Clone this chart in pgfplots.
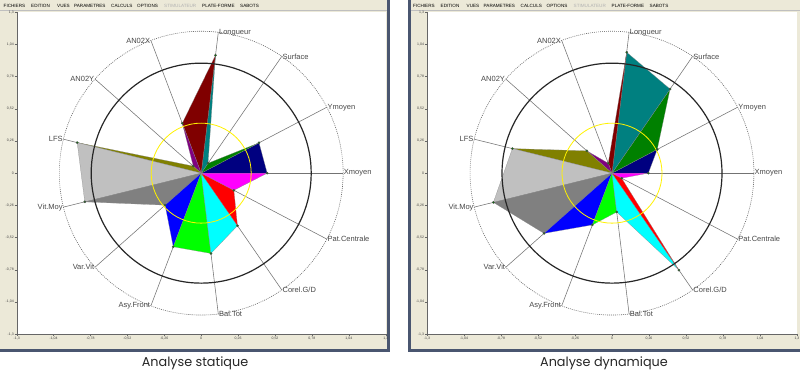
\documentclass[border=0pt]{standalone}
\usepackage{fontspec}
\setmainfont{Liberation Sans}
\newfontfamily\capfont{Poppins}
\usepackage{pgfplots}
\pgfplotsset{compat=1.18}
\definecolor{beige}{HTML}{ECE9D8}
\definecolor{frm}{HTML}{4A5670}
\definecolor{cnavy}{HTML}{000080}
\definecolor{cgreen}{HTML}{008000}
\definecolor{cteal}{HTML}{008080}
\definecolor{cmaroon}{HTML}{800000}
\definecolor{cpurple}{HTML}{800080}
\definecolor{colive}{HTML}{808000}
\definecolor{csilver}{HTML}{C0C0C0}
\definecolor{cgray}{HTML}{808080}
\definecolor{cblue}{HTML}{0000FF}
\definecolor{clime}{HTML}{00FF00}
\definecolor{ccyan}{HTML}{00FFFF}
\definecolor{cred}{HTML}{FF0000}
\definecolor{cmagenta}{HTML}{FF00FF}
\definecolor{lbl}{HTML}{484848}
\newcommand\wdg[5]{\addplot[fill=#1, draw=black!45, line width=0.2pt, data cs=polar, forget plot] coordinates {(0,0) (#2,#3) (#4,#5)} -- cycle;}
\tikzset{lab/.style={font=\fontsize{7.5}{8}\selectfont, text=lbl, inner sep=0.6pt}}
\pgfplotsset{
  base/.style={scale only axis, height=321.7pt, anchor=south west,
    xmin=-1.3, xmax=1.3, ymin=-1.3, ymax=1.3,
    axis lines=left, axis line style={-, black!60, line width=0.4pt},
    axis background/.style={fill=white},
    xtick={-1.3,-1.04,-0.78,-0.52,-0.26,0,0.26,0.52,0.78,1.04,1.3},
    ytick={-1.3,-1.04,-0.78,-0.52,-0.26,0,0.26,0.52,0.78,1.04,1.3},
    xticklabels={{-1,3},{-1,04},{-0,78},{-0,52},{-0,26},0,{0,26},{0,52},{0,78},{1,04},{1,3}},
    yticklabels={{-1,3},{-1,04},{-0,78},{-0,52},{-0,26},0,{0,26},{0,52},{0,78},{1,04},{1,3}},
    tick style={black!60, line width=0.3pt}, major tick length=2pt, tick align=outside,
    tick label style={font=\fontsize{3.5}{4}\selectfont, text=black!75, inner sep=0.8pt}},
  radar/.style={scale only axis, hide axis, clip=false, height=321.7pt, anchor=south west,
    ymin=-1.1334, ymax=1.1334}
}
\newcommand\spokesandrings{%
  \draw[black!60, dash pattern=on 0.9pt off 1.1pt, line width=0.6pt] (axis cs:0,0) circle[radius=141.9pt];
  \pgfplotsinvokeforeach{0,...,12}{\draw[black!55, line width=0.55pt] (axis cs:0,0) -- (axis cs:{cos(##1*360/13)},{sin(##1*360/13)});}
}
\newcommand\circlesandlabels{%
  \draw[yellow, line width=0.8pt] (axis cs:0,0) circle[radius=50pt];
  \draw[black!85, line width=1.2pt] (axis cs:0,0) circle[radius=110pt];
  \node[lab, anchor=west] at (axis cs:{cos(0)},{sin(0)}) {Xmoyen};
  \node[lab, anchor=west] at (axis cs:{cos(27.69)},{sin(27.69)}) {Ymoyen};
  \node[lab, anchor=west] at (axis cs:{cos(55.38)},{sin(55.38)}) {Surface};
  \node[lab, anchor=west] at (axis cs:{cos(83.08)},{sin(83.08)}) {Longueur};
  \node[lab, anchor=east] at (axis cs:{cos(110.77)},{sin(110.77)}) {AN02X};
  \node[lab, anchor=east] at (axis cs:{cos(138.46)},{sin(138.46)}) {AN02Y};
  \node[lab, anchor=east] at (axis cs:{cos(166.15)},{sin(166.15)}) {LFS};
  \node[lab, anchor=east] at (axis cs:{cos(193.85)},{sin(193.85)}) {Vit.Moy};
  \node[lab, anchor=east] at (axis cs:{cos(221.54)},{sin(221.54)}) {Var.Vit};
  \node[lab, anchor=east] at (axis cs:{cos(249.23)},{sin(249.23)}) {Asy.Front};
  \node[lab, anchor=west] at (axis cs:{cos(276.92)},{sin(276.92)}) {Bal.Tot};
  \node[lab, anchor=west] at (axis cs:{cos(304.62)},{sin(304.62)}) {Corel.G/D};
  \node[lab, anchor=west] at (axis cs:{cos(332.31)},{sin(332.31)}) {Pat.Centrale};
}
\newcommand\menubar[1]{%
  \begin{scope}[shift={(#1,0)}, every node/.style={anchor=west, font=\fontsize{4.6}{5}\selectfont, inner sep=0pt}]
    \node at (3.5,372) {FICHIERS};
    \node at (31,372) {EDITION};
    \node at (57,372) {VUES};
    \node at (74,372) {PARAMETRES};
    \node at (111,372) {CALCULS};
    \node at (137,372) {OPTIONS};
    \node[text=black!30] at (164,372) {STIMULATEUR};
    \node at (202,372) {PLATE-FORME};
    \node at (240,372) {SABOTS};
  \end{scope}
}
\begin{document}
\begin{tikzpicture}[x=1pt, y=1pt]
\fill[white] (0,0) rectangle (800,378);
\path[use as bounding box] (0,0) rectangle (800,378);
\coordinate (PL) at (16.7,44);
\coordinate (PR) at (427,44);
% frames
\fill[beige] (0,29) rectangle (387,378);
\fill[frm] (387,26) rectangle (389.5,378);
\fill[frm] (0,26) rectangle (389.5,29);
\fill[beige] (410.5,29) rectangle (800,378);
\fill[frm] (408,26) rectangle (410.5,378);
\fill[frm] (408,26) rectangle (800,29);
\draw[black!25, line width=0.4pt] (0,367.5) -- (387,367.5);
\draw[black!25, line width=0.4pt] (410.5,367.5) -- (800,367.5);
\menubar{0}
\menubar{409.5}
% ---------------- static ----------------
\begin{axis}[base, width=369pt, at={(PL)}]
\end{axis}
\begin{axis}[radar, width=369pt, at={(PL)}, xmin=-1.3, xmax=1.3]
\spokesandrings
\wdg{cnavy}{0}{0.465}{27.69}{0.46}
\wdg{cgreen}{27.69}{0.46}{55.38}{0.085}
\wdg{cteal}{55.38}{0.085}{83.08}{0.837}
\wdg{cmaroon}{83.08}{0.837}{110.77}{0.376}
\wdg{cpurple}{110.77}{0.376}{138.46}{0.075}
\wdg{colive}{138.46}{0.075}{166.15}{0.90}
\wdg{csilver}{166.15}{0.90}{193.85}{0.845}
\wdg{cgray}{193.85}{0.845}{221.54}{0.34}
\wdg{cblue}{221.54}{0.34}{249.23}{0.555}
\wdg{clime}{249.23}{0.555}{276.92}{0.57}
\wdg{ccyan}{276.92}{0.57}{304.62}{0.45}
\wdg{cred}{304.62}{0.45}{332.31}{0.26}
\wdg{cmagenta}{332.31}{0.26}{360}{0.465}
\addplot[only marks, mark=*, mark size=1.1pt, draw=black!70, fill=black!50!green, data cs=polar] coordinates {
(0,0.465) (27.69,0.46) (55.38,0.085) (83.08,0.837) (110.77,0.376) (138.46,0.075) (166.15,0.90)
(193.85,0.845) (221.54,0.34) (249.23,0.555) (276.92,0.57) (304.62,0.45) (332.31,0.26)};
\circlesandlabels
\end{axis}
% ---------------- dynamic ----------------
\begin{axis}[base, width=370pt, at={(PR)}]
\end{axis}
\begin{axis}[radar, width=370pt, at={(PR)}, xmin=-1.3037, xmax=1.3037]
\spokesandrings
\wdg{cnavy}{0}{0.256}{27.69}{0.36}
\wdg{cgreen}{27.69}{0.36}{55.38}{0.72}
\wdg{cteal}{55.38}{0.72}{83.08}{0.858}
\wdg{cmaroon}{83.08}{0.858}{110.77}{0.075}
\wdg{cpurple}{110.77}{0.075}{138.46}{0.237}
\wdg{colive}{138.46}{0.237}{166.15}{0.723}
\wdg{csilver}{166.15}{0.723}{193.85}{0.861}
\wdg{cgray}{193.85}{0.861}{221.54}{0.64}
\wdg{cblue}{221.54}{0.64}{249.23}{0.39}
\wdg{clime}{249.23}{0.39}{276.92}{0.276}
\wdg{ccyan}{276.92}{0.276}{304.62}{0.83}
\wdg{cred}{304.62}{0.83}{332.31}{0.077}
\wdg{cmagenta}{332.31}{0.077}{360}{0.256}
\addplot[only marks, mark=*, mark size=1.1pt, draw=black!70, fill=black!50!green, data cs=polar] coordinates {
(0,0.256) (27.69,0.36) (55.38,0.72) (83.08,0.858) (110.77,0.075) (138.46,0.237) (166.15,0.723)
(193.85,0.861) (221.54,0.64) (249.23,0.39) (276.92,0.276) (304.62,0.83) (332.31,0.077)};
\circlesandlabels
\end{axis}
% captions
\node[anchor=base, font=\capfont\fontsize{12.8}{14}\selectfont, text=black!85] at (195,11.3) {Analyse statique};
\node[anchor=base, font=\capfont\fontsize{12.8}{14}\selectfont, text=black!85] at (604,11.3) {Analyse dynamique};
\end{tikzpicture}
\end{document}
